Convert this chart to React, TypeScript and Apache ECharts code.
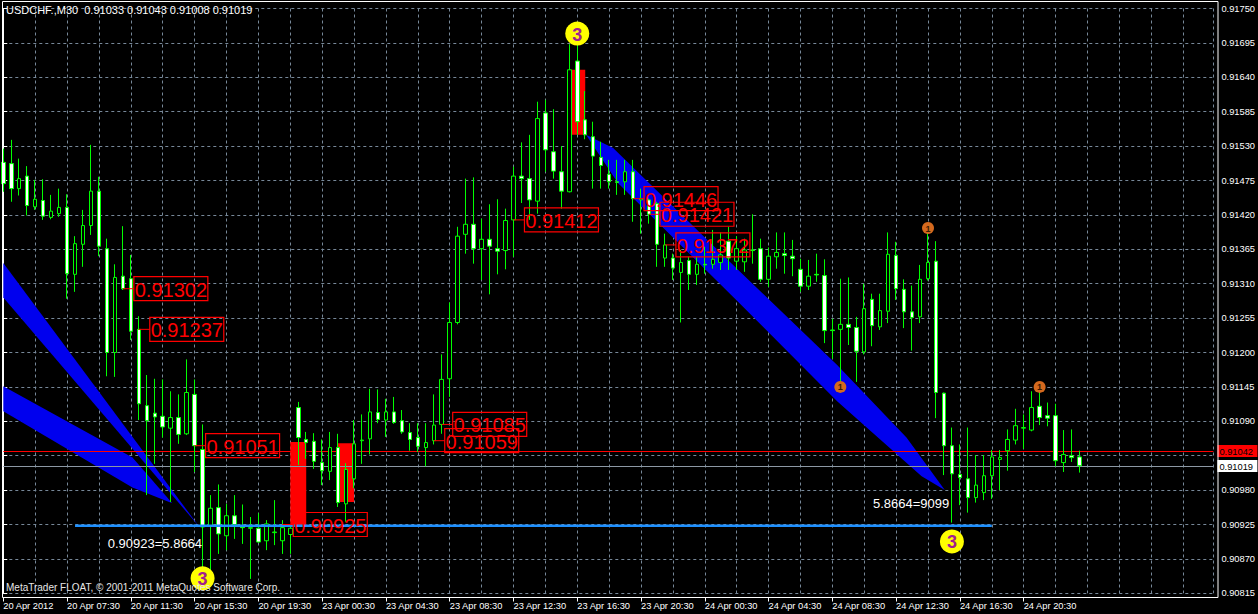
import React, { useEffect, useRef } from "react";
import * as echarts from "echarts";

const title = "USDCHF.,M30  0.91033 0.91043 0.91008 0.91019";
const copyright = "MetaTrader FLOAT, \u00a9 2001-2011 MetaQuotes Software Corp.";

const tickLabels = [
  "20 Apr 2012", "20 Apr 07:30", "20 Apr 11:30", "20 Apr 15:30", "20 Apr 19:30",
  "23 Apr 00:30", "23 Apr 04:30", "23 Apr 08:30", "23 Apr 12:30", "23 Apr 16:30",
  "23 Apr 20:30", "24 Apr 00:30", "24 Apr 04:30", "24 Apr 08:30", "24 Apr 12:30",
  "24 Apr 16:30", "24 Apr 20:30",
];
const barsPerLabel = 8;

const opens = [
  0.91504, 0.91502, 0.91462, 0.91482, 0.91433, 0.91443, 0.91416, 0.91422, 0.91432, 0.91325,
  0.91373, 0.91403, 0.91458, 0.91366, 0.91200, 0.91322, 0.91318, 0.91237, 0.91115, 0.91103,
  0.91098, 0.91079, 0.91096, 0.91070, 0.91133, 0.91045, 0.90923, 0.90952, 0.90907, 0.90939,
  0.90921, 0.90919, 0.90919, 0.90899, 0.90912, 0.90899, 0.90909, 0.91112, 0.91061, 0.91058,
  0.91024, 0.91010, 0.91048, 0.90958, 0.90998, 0.91059, 0.91062, 0.91104, 0.91092, 0.91105,
  0.91091, 0.91072, 0.91064, 0.91048, 0.91059, 0.91085, 0.91158, 0.91248, 0.91389, 0.91405,
  0.91366, 0.91381, 0.91366, 0.91363, 0.91412, 0.91482, 0.91478, 0.91442, 0.91583, 0.91521,
  0.91489, 0.91457, 0.91666, 0.91572, 0.91545, 0.91512, 0.91485, 0.91473, 0.91473, 0.91489,
  0.91444, 0.91444, 0.91438, 0.91351, 0.91351, 0.91328, 0.91347, 0.91325, 0.91341, 0.91341,
  0.91344, 0.91378, 0.91346, 0.91345, 0.91364, 0.91366, 0.91317, 0.91353, 0.91358, 0.91354,
  0.91333, 0.91306, 0.91325, 0.91323, 0.91236, 0.91237, 0.91245, 0.91240, 0.91201, 0.91285,
  0.91241, 0.91266, 0.91355, 0.91301, 0.91265, 0.91257, 0.91318, 0.91346, 0.91135, 0.91051,
  0.91005, 0.90998, 0.90968, 0.90976, 0.91003, 0.91029, 0.91043, 0.91060, 0.91079, 0.91076,
  0.91114, 0.91099, 0.91099, 0.91024, 0.91035, 0.91033,
];
const closes = [
  0.91470, 0.91462, 0.91478, 0.91435, 0.91445, 0.91418, 0.91426, 0.91432, 0.91326, 0.91374,
  0.91403, 0.91458, 0.91370, 0.91200, 0.91320, 0.91302, 0.91234, 0.91118, 0.91091, 0.91097,
  0.91081, 0.91096, 0.91069, 0.91136, 0.91051, 0.90921, 0.90951, 0.90910, 0.90939, 0.90925,
  0.90920, 0.90920, 0.90897, 0.90926, 0.90913, 0.90920, 0.90919, 0.91064, 0.91056, 0.91026,
  0.91011, 0.91048, 0.90960, 0.91013, 0.91054, 0.91060, 0.91105, 0.91093, 0.91105, 0.91088,
  0.91073, 0.91061, 0.91050, 0.91056, 0.91084, 0.91157, 0.91248, 0.91386, 0.91405, 0.91366,
  0.91381, 0.91370, 0.91362, 0.91411, 0.91482, 0.91478, 0.91444, 0.91574, 0.91524, 0.91490,
  0.91458, 0.91652, 0.91569, 0.91548, 0.91514, 0.91499, 0.91473, 0.91472, 0.91489, 0.91446,
  0.91446, 0.91421, 0.91373, 0.91372, 0.91335, 0.91344, 0.91325, 0.91341, 0.91340, 0.91349,
  0.91356, 0.91351, 0.91366, 0.91364, 0.91363, 0.91317, 0.91354, 0.91360, 0.91355, 0.91350,
  0.91306, 0.91322, 0.91324, 0.91235, 0.91235, 0.91245, 0.91240, 0.91202, 0.91270, 0.91243,
  0.91267, 0.91357, 0.91302, 0.91265, 0.91256, 0.91317, 0.91344, 0.91136, 0.91051, 0.91006,
  0.91000, 0.90968, 0.90988, 0.91003, 0.91033, 0.91032, 0.91061, 0.91083, 0.91080, 0.91112,
  0.91096, 0.91095, 0.91027, 0.91037, 0.91032, 0.91019,
];
const lows = [
  0.91457, 0.91441, 0.91451, 0.91419, 0.91428, 0.91412, 0.91413, 0.91417, 0.91286, 0.91297,
  0.91337, 0.91388, 0.91354, 0.91162, 0.91161, 0.91300, 0.91220, 0.91092, 0.90972, 0.91022,
  0.91064, 0.90961, 0.91054, 0.91068, 0.91009, 0.90828, 0.90846, 0.90878, 0.90884, 0.90902,
  0.90894, 0.90838, 0.90896, 0.90884, 0.90892, 0.90878, 0.90878, 0.91020, 0.91030, 0.91014,
  0.90988, 0.90996, 0.90953, 0.90929, 0.90983, 0.91022, 0.91037, 0.91087, 0.91065, 0.91086,
  0.91070, 0.91043, 0.91041, 0.91018, 0.91053, 0.91070, 0.91129, 0.91245, 0.91358, 0.91342,
  0.91316, 0.91293, 0.91325, 0.91333, 0.91353, 0.91439, 0.91412, 0.91422, 0.91489, 0.91478,
  0.91430, 0.91456, 0.91548, 0.91541, 0.91462, 0.91462, 0.91462, 0.91452, 0.91452, 0.91409,
  0.91390, 0.91406, 0.91337, 0.91337, 0.91316, 0.91248, 0.91300, 0.91308, 0.91326, 0.91334,
  0.91332, 0.91332, 0.91332, 0.91329, 0.91342, 0.91313, 0.91305, 0.91334, 0.91326, 0.91322,
  0.91297, 0.91300, 0.91313, 0.91215, 0.91190, 0.91144, 0.91212, 0.91153, 0.91197, 0.91210,
  0.91236, 0.91247, 0.91284, 0.91239, 0.91203, 0.91247, 0.91315, 0.91095, 0.91004, 0.90928,
  0.90956, 0.90944, 0.90960, 0.90964, 0.90966, 0.90980, 0.91011, 0.91053, 0.91046, 0.91074,
  0.91084, 0.91082, 0.91018, 0.91009, 0.91025, 0.91008,
];
const highs = [
  0.91526, 0.91540, 0.91510, 0.91498, 0.91476, 0.91477, 0.91452, 0.91462, 0.91453, 0.91386,
  0.91428, 0.91532, 0.91481, 0.91382, 0.91341, 0.91402, 0.91356, 0.91258, 0.91164, 0.91158,
  0.91157, 0.91138, 0.91133, 0.91189, 0.91157, 0.91085, 0.90972, 0.90989, 0.90958, 0.90972,
  0.90957, 0.90937, 0.90943, 0.90932, 0.90964, 0.90932, 0.90925, 0.91121, 0.91073, 0.91071,
  0.91061, 0.91073, 0.91070, 0.91023, 0.91092, 0.91101, 0.91142, 0.91141, 0.91126, 0.91129,
  0.91108, 0.91087, 0.91087, 0.91087, 0.91133, 0.91197, 0.91280, 0.91401, 0.91478, 0.91480,
  0.91414, 0.91437, 0.91445, 0.91430, 0.91497, 0.91536, 0.91548, 0.91601, 0.91604, 0.91589,
  0.91530, 0.91693, 0.91693, 0.91618, 0.91569, 0.91537, 0.91508, 0.91508, 0.91508, 0.91508,
  0.91462, 0.91446, 0.91441, 0.91390, 0.91358, 0.91364, 0.91353, 0.91353, 0.91369, 0.91396,
  0.91392, 0.91401, 0.91386, 0.91382, 0.91421, 0.91382, 0.91368, 0.91392, 0.91392, 0.91380,
  0.91350, 0.91348, 0.91358, 0.91349, 0.91254, 0.91318, 0.91320, 0.91257, 0.91310, 0.91294,
  0.91294, 0.91392, 0.91377, 0.91317, 0.91307, 0.91340, 0.91401, 0.91378, 0.91136, 0.91080,
  0.91053, 0.91080, 0.91036, 0.91036, 0.91044, 0.91044, 0.91077, 0.91110, 0.91101, 0.91138,
  0.91145, 0.91120, 0.91118, 0.91076, 0.91077, 0.91043,
];

// boxed price labels: anchor bar and price
const priceLabelBars = [15, 17, 24, 35, 54, 55, 64, 79, 81, 83];
const priceLabelValues = [0.91302, 0.91237, 0.91051, 0.90925, 0.91059, 0.91085, 0.91412, 0.91446, 0.91421, 0.91372];

// red gap rectangles: [barFrom, priceTop, barTo, priceBottom]
const gapZones = [
  [36, 0.91057, 38, 0.90921],
  [42, 0.91055, 44, 0.90961],
  [71, 0.91652, 73, 0.91548],
];

// blue wedge objects, vertices as [bar, price]
const wedgeA = [[0, 0.91343], [24.6, 0.90921], [0, 0.91288]];
const wedgeB = [[0, 0.91146], [16.2, 0.91032], [21.2, 0.90959], [16.2, 0.90984], [0, 0.91106]];
const wedgeC = [
  [73.1, 0.91548], [76.5, 0.91527], [92.1, 0.91333], [104.6, 0.91180], [113.3, 0.91064],
  [118.1, 0.90980], [115.2, 0.91002], [104.6, 0.91122], [92.1, 0.91282], [77.1, 0.91471],
];
const wedges = [wedgeA, wedgeB, wedgeC];

// wave markers "3" and pivot markers "1"
const waveBars = [72, 25, 119];
const wavePrices = [0.91710, 0.90839, 0.90898];
const pivotBars = [116, 105, 130];
const pivotPrices = [0.91399, 0.91145, 0.91145];

// horizontal level (light blue)
const levelBars = [9, 124];
const levelPrice = 0.90923;

// ask / bid price lines
const quotePrices = [0.91042, 0.91019];
const quoteLineColors = ["#ff0000", "#8c98a4"];
const quoteBoxColors = ["#ff0000", "#ffffff"];

// text notes: [bar, price, text]
const noteBars = [13.1, 109.1];
const notePrices = [0.90895, 0.90959];
const noteTexts = ["0.90923=5.8664", "5.8664=9099"];

const FONT = "'Liberation Sans', Arial, sans-serif";
const X_MAX = 151.8;

export default function App() {
  const ref = useRef<HTMLDivElement>(null);

  useEffect(() => {
    if (!ref.current) return;
    const chart = echarts.init(ref.current, null, { renderer: "svg" });

    const candles = opens.map((o, i) => [i, o, closes[i], lows[i], highs[i]]);
    const tickValues = tickLabels.map((_, k) => k * barsPerLabel);

    const option: any = {
      animation: false,
      backgroundColor: "#000000",
      grid: { left: 3.3, right: 40.3, top: 8.5, bottom: 20.7, containLabel: false },
      xAxis: [
        {
          type: "value", min: 0, max: X_MAX, interval: 4,
          axisLine: { show: false }, axisTick: { show: false }, axisLabel: { show: false },
          splitLine: { show: true, lineStyle: { color: "#778899", type: [3, 3], width: 1 } },
        },
        {
          type: "value", min: 0, max: X_MAX, position: "bottom", offset: 4.2,
          axisLine: { show: true, lineStyle: { color: "#ffffff", width: 1 } },
          axisTick: { show: true, length: 4, lineStyle: { color: "#ffffff" }, customValues: tickValues },
          axisLabel: {
            show: true, customValues: tickValues,
            formatter: (v: number) => tickLabels[Math.round(v / barsPerLabel)] ?? "",
            color: "#ffffff", fontSize: 9.3, fontFamily: FONT, align: "left", margin: 4,
          },
          splitLine: { show: false },
        },
      ],
      yAxis: {
        type: "value", position: "right", min: 0.90815, max: 0.9175, interval: 0.00055,
        axisLine: { show: true, lineStyle: { color: "#ffffff", width: 1 } },
        axisTick: { show: true, length: 4, lineStyle: { color: "#ffffff" } },
        axisLabel: {
          color: "#ffffff", fontSize: 9.3, fontFamily: FONT, margin: 8,
          // the ask/bid boxes cover any tick label lying under them
          formatter: (v: number) => (quotePrices.some((q) => Math.abs(q - v) < 0.0001) ? "" : v.toFixed(5)),
        },
        splitLine: { show: true, lineStyle: { color: "#778899", type: [3, 3], width: 1 } },
      },
      series: [
        {
          type: "custom", name: "gaps", xAxisIndex: 0, yAxisIndex: 0, z: 1,
          data: gapZones,
          renderItem: (params: any, api: any) => {
            const a = api.coord([api.value(0), api.value(1)]);
            const b = api.coord([api.value(2), api.value(3)]);
            return {
              type: "rect",
              shape: { x: Math.min(a[0], b[0]), y: Math.min(a[1], b[1]), width: Math.abs(b[0] - a[0]), height: Math.abs(b[1] - a[1]) },
              style: { fill: "#ff0000" },
            };
          },
          silent: true,
        },
        {
          type: "custom", name: "wedges", xAxisIndex: 0, yAxisIndex: 0, z: 1,
          data: wedges.map((w) => [w[0][0], w[0][1]]),
          renderItem: (params: any, api: any) => {
            const pts = wedges[params.dataIndex].map((p) => api.coord(p));
            return { type: "polygon", shape: { points: pts }, style: { fill: "#0000ee" } };
          },
          silent: true,
        },
        {
          type: "custom", name: "quotes", xAxisIndex: 0, yAxisIndex: 0, z: 2,
          data: quotePrices.map((p) => [0, p]),
          renderItem: (params: any, api: any) => {
            const cs = params.coordSys;
            const k = params.dataIndex;
            const y = Math.round(api.coord([0, api.value(1)])[1]) + 0.5;
            const right = cs.x + cs.width;
            return {
              type: "group",
              children: [
                { type: "line", shape: { x1: cs.x, y1: y, x2: right, y2: y }, style: { stroke: quoteLineColors[k], lineWidth: 1 } },
                { type: "rect", shape: { x: right + 4, y: y - 6.5, width: 40, height: 12 }, style: { fill: quoteBoxColors[k] } },
                {
                  type: "text", x: right + 6, y: y,
                  style: { text: api.value(1).toFixed(5), fill: "#000000", fontSize: 9.3, fontFamily: FONT, align: "left", verticalAlign: "middle" },
                },
              ],
            };
          },
          silent: true,
        },
        {
          type: "candlestick", name: "USDCHF", xAxisIndex: 0, yAxisIndex: 0, z: 3,
          data: candles, barWidth: 4,
          itemStyle: {
            color: "#000000", color0: "#ffffff",
            borderColor: "#00ff00", borderColor0: "#00ff00", borderColorDoji: "#00ff00",
            borderWidth: 1,
          },
        },
        {
          type: "line", name: "level", xAxisIndex: 0, yAxisIndex: 0, z: 4,
          data: levelBars.map((b) => [b, levelPrice]),
          symbol: "none", lineStyle: { color: "#1e90ff", width: 2.5 }, silent: true,
        },
        {
          type: "custom", name: "priceLabels", xAxisIndex: 0, yAxisIndex: 0, z: 5,
          data: priceLabelBars.map((b, k) => [b, priceLabelValues[k]]),
          renderItem: (params: any, api: any) => {
            const bar = api.value(0);
            const price = api.value(1);
            const a = api.coord([bar, price]);
            const n = api.coord([bar + 1, price]);
            const bx = n[0] + 3;
            return {
              type: "group",
              children: [
                { type: "line", shape: { x1: a[0], y1: a[1], x2: bx, y2: a[1] }, style: { stroke: "#ff0000", lineWidth: 1 } },
                { type: "rect", shape: { x: bx, y: a[1] - 12, width: 74, height: 24 }, style: { fill: "none", stroke: "#ff0000", lineWidth: 1.2 } },
                {
                  type: "text", x: bx + 37, y: a[1] + 1,
                  style: { text: price.toFixed(5), fill: "#ff0000", fontSize: 20, fontFamily: FONT, align: "center", verticalAlign: "middle" },
                },
              ],
            };
          },
          silent: true,
        },
        {
          type: "custom", name: "waves", xAxisIndex: 0, yAxisIndex: 0, z: 6,
          data: waveBars.map((b, k) => [b, wavePrices[k]]),
          renderItem: (params: any, api: any) => {
            const c = api.coord([api.value(0), api.value(1)]);
            return {
              type: "group",
              children: [
                { type: "circle", shape: { cx: c[0], cy: c[1], r: 12 }, style: { fill: "#ffff00" } },
                {
                  type: "text", x: c[0], y: c[1] + 1,
                  style: { text: "3", fill: "#a0208f", fontSize: 18, fontWeight: "bold", fontFamily: FONT, align: "center", verticalAlign: "middle" },
                },
              ],
            };
          },
          silent: true,
        },
        {
          type: "custom", name: "pivots", xAxisIndex: 0, yAxisIndex: 0, z: 6,
          data: pivotBars.map((b, k) => [b, pivotPrices[k]]),
          renderItem: (params: any, api: any) => {
            const c = api.coord([api.value(0), api.value(1)]);
            return {
              type: "group",
              children: [
                { type: "circle", shape: { cx: c[0], cy: c[1], r: 6 }, style: { fill: "#d4691e" } },
                {
                  type: "text", x: c[0], y: c[1] + 0.5,
                  style: { text: "1", fill: "#3a1a00", fontSize: 9, fontWeight: "bold", fontFamily: FONT, align: "center", verticalAlign: "middle" },
                },
              ],
            };
          },
          silent: true,
        },
        {
          type: "custom", name: "notes", xAxisIndex: 0, yAxisIndex: 0, z: 6,
          data: noteBars.map((b, k) => [b, notePrices[k]]),
          renderItem: (params: any, api: any) => {
            const c = api.coord([api.value(0), api.value(1)]);
            return {
              type: "text", x: c[0], y: c[1],
              style: { text: noteTexts[params.dataIndex], fill: "#ffffff", fontSize: 13, fontFamily: FONT, align: "left", verticalAlign: "middle" },
            };
          },
          silent: true,
        },
      ],
      graphic: [
        {
          type: "rect", z: 10, silent: true,
          shape: { x: 2.5, y: 1.5, width: 1215.5, height: 596 },
          style: { fill: "none", stroke: "#ffffff", lineWidth: 1 },
        },
        {
          type: "text", left: 6, top: 4, z: 10, silent: true,
          style: { text: title, fill: "#ffffff", fontSize: 11, fontFamily: FONT },
        },
        {
          type: "text", left: 6, top: 582, z: 10, silent: true,
          style: { text: copyright, fill: "#e6e6e6", fontSize: 10, fontFamily: FONT },
        },
      ],
    };

    chart.setOption(option);
    return () => chart.dispose();
  }, []);

  return (
    <div
      ref={ref}
      style={{ position: "fixed", left: 0, top: 0, width: 1258, height: 614, background: "#000" }}
    />
  );
}
